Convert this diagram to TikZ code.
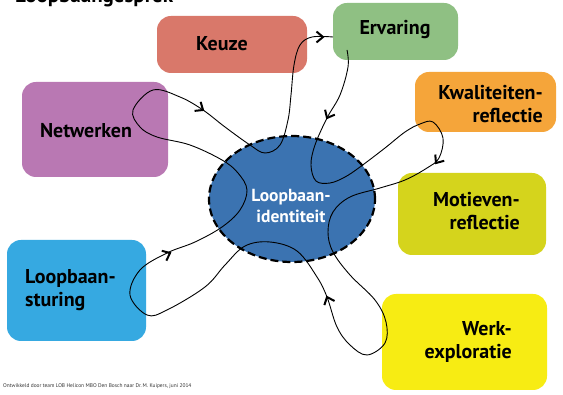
\documentclass[tikz,border=0pt]{standalone}
\usepackage{fontspec}
\setmainfont{PT Sans}
\usetikzlibrary{calc,shapes.geometric}
\definecolor{ckeuze}{HTML}{D9786A}
\definecolor{cervaring}{HTML}{8FC083}
\definecolor{ckwal}{HTML}{F5A53A}
\definecolor{cnetw}{HTML}{B978B3}
\definecolor{cmotiv}{HTML}{D5D41C}
\definecolor{csturing}{HTML}{36A9E1}
\definecolor{cwerk}{HTML}{F7EC13}
\definecolor{cident}{HTML}{3B73B1}
\begin{document}
\begin{tikzpicture}[x=1pt,y=-1pt,
  box/.style={rectangle, rounded corners=14pt, draw=none, inner sep=0pt},
  lbl/.style={font=\bfseries\fontsize{20}{23}\selectfont, text=black, inner sep=0pt},
  chevron/.style={line width=2pt, line cap=butt, line join=miter},
  loopline/.style={line width=0.9pt}]
\useasboundingbox (0,0) rectangle (563,395);
\clip (0,0) rectangle (563,395);
\fill[white] (0,0) rectangle (563,395);
% title (cut off at the top, as in the reference)
\node[anchor=base west, inner sep=0pt, font=\bfseries\fontsize{21}{24}\selectfont] (title) at (15,3) {Loopbaangesprek};
% boxes
\node[box, fill=ckeuze, minimum width=150pt, minimum height=57pt] (keuze) at (232,44.5) {};
\node[box, fill=cervaring, minimum width=125pt, minimum height=57pt] (ervaring) at (395.5,31.5) {};
\node[box, fill=ckwal, minimum width=141pt, minimum height=60pt] (kwal) at (485.5,102) {};
\node[box, fill=cnetw, minimum width=146pt, minimum height=95pt] (netw) at (95,129.5) {};
\node[box, fill=cmotiv, minimum width=148pt, minimum height=82pt] (motiv) at (472,214) {};
\node[box, fill=csturing, minimum width=139pt, minimum height=101pt] (sturing) at (76.5,290.5) {};
\node[box, fill=cwerk, minimum width=165pt, minimum height=96pt] (werk) at (464.5,342) {};
% centre
\node[ellipse, fill=cident, draw=black, line width=2.2pt, dash pattern=on 8pt off 4pt,
      minimum width=166pt, minimum height=126pt] (ident) at (292,199) {};
% labels
\node[lbl] (tkeuze) at (222,44) {Keuze};
\node[lbl] (tervaring) at (395,30) {Ervaring};
\node[lbl, align=right, anchor=east] (tkwal) at (543,104) {Kwaliteiten-\\reflectie};
\node[lbl] (tnetw) at (86,131) {Netwerken};
\node[lbl, align=right, anchor=east] (tmotiv) at (520,211) {Motieven-\\reflectie};
\node[lbl, align=left, anchor=west] (tsturing) at (25,290) {Loopbaan-\\sturing};
\node[lbl, align=right, anchor=east] (twerk) at (512,342) {Werk-\\exploratie};
\node[lbl, align=center, text=white, font=\bfseries\fontsize{17.5}{21}\selectfont] (tident) at (291,206) {Loopbaan-\\identiteit};
% footer
\node[anchor=base west, inner sep=0pt, text=black!80, font=\fontsize{5.4}{6}\selectfont] (footer) at (3,388) {Ontwikkeld door team LOB Helicon MBO Den Bosch naar Dr.\,M. Kuipers, juni 2014};
% the flowing line
\coordinate (ls) at (347,50);
\coordinate (le) at (333,37);
\draw[loopline] plot[smooth, tension=0.6] coordinates {
 (ls) (348,67) (340,95) (327,118) (315,145) (311,165) (316,181) (330,183) (345,177)
 (360,167) (385,148) (405,132) (420,124) (433,122) (443,138) (439,158) (427,168)
 (405,180) (380,188) (350,197) (333,212) (328,232) (333,252) (350,275) (375,300)
 (386,322) (385,343) (367,355) (350,345) (337,327) (327,297) (317,277) (297,251)
 (270,242) (245,246) (225,265) (205,287) (167,310) (147,315) (130,295) (140,270)
 (167,253) (195,242) (222,227) (240,210) (247,190) (238,173) (222,160) (190,145)
 (157,137) (140,127) (133,110) (153,90) (180,97) (203,110) (225,127) (250,145)
 (265,153) (280,145) (288,120) (291,95) (294,65) (300,45) (312,37) (le)};
% arrow heads
\foreach \n/\px/\py/\a in {c1/170/253/25, c2/203/110/-34, c3/323/37/0,
                      c4/327/118/-117, c5/436/163/-125, c6/327/297/112}{
  \coordinate (\n) at (\px,\py);
  \draw[chevron] ($(\n)+(\a+140:8.5pt)$) -- (\n) -- ($(\n)+(\a-140:8.5pt)$);
}
\end{tikzpicture}
\end{document}
